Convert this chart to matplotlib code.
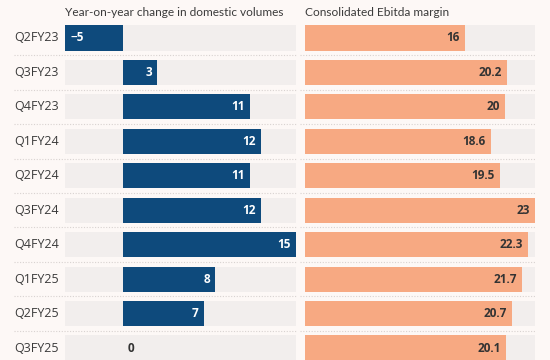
import matplotlib
matplotlib.use("Agg")
import matplotlib.pyplot as plt
from matplotlib.transforms import blended_transform_factory

quarters = ["Q2FY23", "Q3FY23", "Q4FY23", "Q1FY24", "Q2FY24",
            "Q3FY24", "Q4FY24", "Q1FY25", "Q2FY25", "Q3FY25"]
volume_change = [-5, 3, 11, 12, 11, 12, 15, 8, 7, 0]
ebitda_margin = [16, 20.2, 20, 18.6, 19.5, 23, 22.3, 21.7, 20.7, 20.1]
volume_labels = ["\u22125", "3", "11", "12", "11", "12", "15", "8", "7", "0"]
margin_labels = ["16", "20.2", "20", "18.6", "19.5", "23", "22.3", "21.7", "20.7", "20.1"]

BG = "#fdf8f6"
ROW = "#f2eeed"
NAVY = "#0e4a7c"
SALMON = "#f7a982"
TXT = "#3b3b3b"
SEP = "#d8d2d0"

plt.rcParams['font.family'] = ['Open Sans', 'DejaVu Sans']

W, H = 550, 360
fig = plt.figure(figsize=(W / 100, H / 100), dpi=100)
fig.patch.set_facecolor(BG)

n = len(quarters)
row_px = 34.45
top_px = 38 - row_px / 2
ax_h_px = row_px * n
bottom = (H - (top_px + ax_h_px)) / H
height = ax_h_px / H

axL = fig.add_axes([65 / W, bottom, 231 / W, height])
axR = fig.add_axes([305 / W, bottom, 230 / W, height])

ypos = list(range(n))
bh = 0.73

for ax, vals, labels, xmin, xmax, color, lblcol, sep_x0 in [
    (axL, volume_change, volume_labels, -5, 15, NAVY, "white", 14),
    (axR, ebitda_margin, margin_labels, 0, 23, SALMON, "#333333", 300),
]:
    ax.set_facecolor("none")
    ax.set_xlim(xmin, xmax)
    ax.set_ylim(n - 0.5, -0.5)
    ax.barh(ypos, [xmax - xmin] * n, left=xmin, height=bh, color=ROW, zorder=1)
    ax.barh(ypos, vals, left=0, height=bh, color=color, zorder=2)
    for sp in ax.spines.values():
        sp.set_visible(False)
    ax.set_xticks([])
    ax.set_yticks([])
    # separators
    x0_frac = (sep_x0 - ax.get_position().x0 * W) / (ax.get_position().width * W)
    tr = blended_transform_factory(ax.transAxes, ax.transData)
    for i in range(n - 1):
        ax.plot([x0_frac, 1.0], [i + 0.5, i + 0.5], transform=tr, color=SEP,
                lw=0.8, ls=(0, (1, 1.5)), clip_on=False, zorder=0)
    # value labels
    for i, (v, lab) in enumerate(zip(vals, labels)):
        if v > 0:
            ax.text(v - (xmax - xmin) * 0.022, i, lab, ha="right", va="center",
                    color=lblcol, fontsize=8.5, fontweight="bold", zorder=3)
        elif v < 0:
            ax.text(v + (xmax - xmin) * 0.022, i, lab, ha="left", va="center",
                    color=lblcol, fontsize=8.5, fontweight="bold", zorder=3)
        else:
            ax.text(0 + (xmax - xmin) * 0.022, i, lab, ha="left", va="center",
                    color="#333333", fontsize=8.5, fontweight="bold", zorder=3)

# category labels
trL = blended_transform_factory(fig.transFigure, axL.transData)
for i, q in enumerate(quarters):
    axL.text(14 / W, i, q, transform=trL, ha="left", va="center",
             color=TXT, fontsize=9)

fig.text(65 / W, 1 - 13 / H, "Year-on-year change in domestic volumes",
         ha="left", va="center", color=TXT, fontsize=8.6, family=['Lato', 'DejaVu Sans'])
fig.text(305 / W, 1 - 13 / H, "Consolidated Ebitda margin",
         ha="left", va="center", color=TXT, fontsize=8.6, family=['Lato', 'DejaVu Sans'])

fig.savefig("out.png", dpi=100, facecolor=BG)
